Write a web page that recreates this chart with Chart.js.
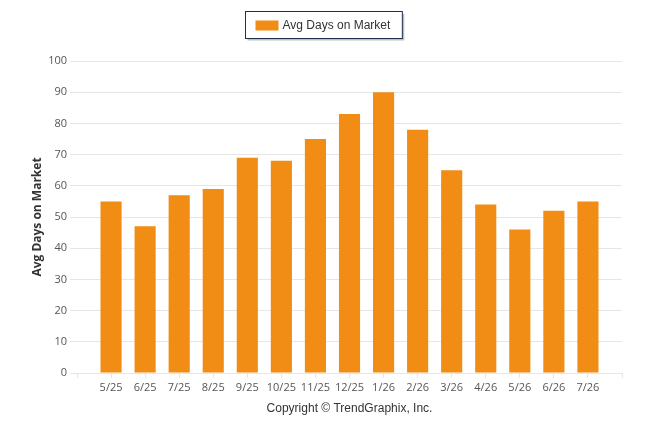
<!DOCTYPE html>
<html>
<head>
<meta charset="utf-8">
<script src="https://cdn.jsdelivr.net/npm/chart.js@4.4.0/dist/chart.umd.min.js"></script>
<style>
  html, body { margin: 0; padding: 0; background: #fff; }
  #wrap { width: 646px; height: 434px; position: relative; }
</style>
</head>
<body>
<div id="wrap"><canvas id="c"></canvas></div>
<script>
// months shown on the x axis (blank slots at both ends, like the original)
var months = ['', '5/25', '6/25', '7/25', '8/25', '9/25', '10/25', '11/25', '12/25',
              '1/26', '2/26', '3/26', '4/26', '5/26', '6/26', '7/26', ''];
var avgDays = [null, 55, 47, 57, 59, 69, 68, 75, 83, 90, 78, 65, 54, 46, 52, 55, null];
var seriesName = 'Avg Days on Market';
var yTicks = [0, 10, 20, 30, 40, 50, 60, 70, 80, 90, 100];

var barColor = '#f18d14';
var gridColor = '#e6e6e6';

// boxed legend at the top, drawn by hand
var boxLegend = {
  id: 'boxLegend',
  afterDraw: function(chart) {
    var ctx = chart.ctx;
    var ds = chart.data.datasets[0];
    ctx.save();
    ctx.font = '12px "Liberation Sans", Arial, sans-serif';
    var tw = ctx.measureText(ds.label).width;
    var w = 10 + 23 + 4 + tw + 12;
    var x = Math.round(chart.width / 2 - w / 2) + 0.5, y = 11.5, h = 27;
    // shadow
    ctx.fillStyle = 'rgba(0,0,0,0.25)';
    ctx.fillRect(x + 2, y + 2, w, h);
    ctx.fillStyle = '#fff';
    ctx.fillRect(x, y, w, h);
    ctx.strokeStyle = '#1c2f4d';
    ctx.lineWidth = 1;
    ctx.strokeRect(x, y, w, h);
    ctx.fillStyle = ds.backgroundColor;
    ctx.fillRect(x + 10, y + 9, 23, 10);
    ctx.fillStyle = '#333';
    ctx.textBaseline = 'middle';
    ctx.fillText(ds.label, x + 37, y + h / 2 + 1);
    ctx.restore();
  }
};

new Chart(document.getElementById('c'), {
  type: 'bar',
  data: {
    labels: months,
    datasets: [{
      label: seriesName,
      data: avgDays,
      backgroundColor: barColor,
      borderWidth: 0,
      barPercentage: 0.62,
      categoryPercentage: 1
    }]
  },
  options: {
    responsive: true,
    maintainAspectRatio: false,
    animation: false,
    layout: { padding: { top: 61, right: 24, left: 0, bottom: 0 } },
    plugins: {
      legend: { display: false },
      tooltip: { enabled: false }
    },
    scales: {
      x: {
        offset: false,
        afterFit: function(s) { s.height = 61; },
        grid: { offset: false, drawOnChartArea: false, drawTicks: true, tickLength: 5, color: gridColor },
        border: { display: true, color: gridColor },
        ticks: {
          autoSkip: false, maxRotation: 0, padding: 3, color: '#555',
          font: { family: '"Open Sans", sans-serif', size: 11 }
        },
        title: {
          display: true,
          text: 'Copyright © TrendGraphix, Inc.',
          color: '#333',
          padding: { top: 0, bottom: 18 },
          font: { family: '"Liberation Sans", Arial, sans-serif', size: 12 }
        }
      },
      y: {
        min: 0,
        max: 100,
        afterFit: function(s) { s.width = 77; },
        afterBuildTicks: function(s) { s.ticks = yTicks.map(function(v) { return { value: v }; }); },
        grid: { color: gridColor, tickLength: 7 },
        border: { display: false },
        ticks: {
          padding: 3, color: '#555',
          font: { family: '"Open Sans", sans-serif', size: 11 }
        },
        title: {
          display: true,
          text: seriesName,
          color: '#333',
          padding: { top: 30, bottom: 0 },
          font: { family: '"Open Sans", sans-serif', size: 12, weight: 'bold' }
        }
      }
    }
  },
  plugins: [boxLegend]
});
</script>
</body>
</html>
